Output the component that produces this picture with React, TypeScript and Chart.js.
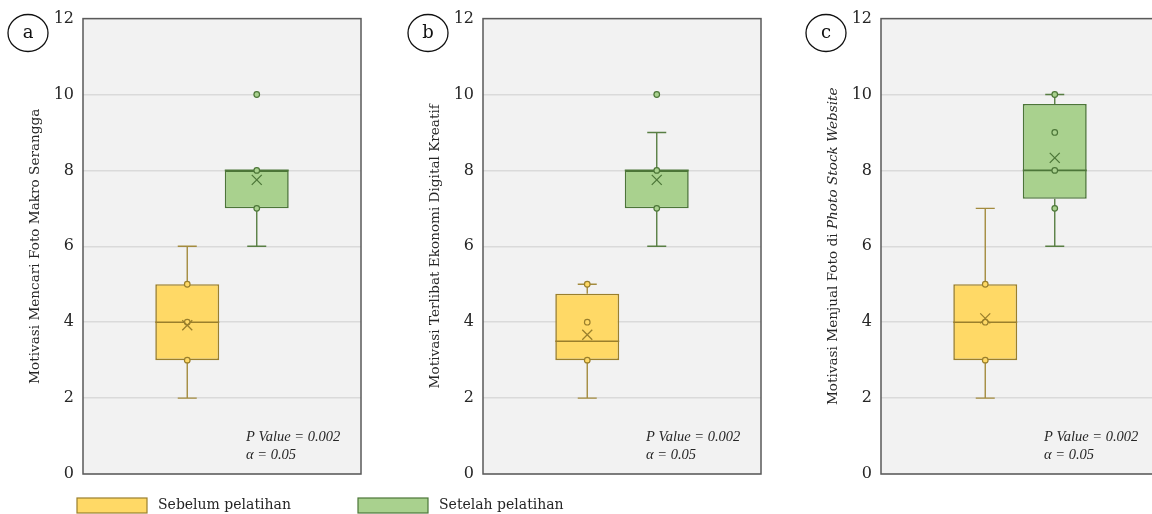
import React, { useEffect, useRef } from "react";
import { Chart, registerables } from "chart.js";
Chart.register(...registerables);

// ---------- DATA ----------
const PANEL_LETTERS = ["a", "b", "c"];
const Y_TITLE_PLAIN = [
  "Motivasi Mencari Foto Makro Serangga",
  "Motivasi Terlibat Ekonomi Digital Kreatif",
  "Motivasi Menjual Foto di ",
];
const Y_TITLE_ITALIC = ["", "", "Photo Stock Website"];
const SERIES_NAMES = ["Sebelum pelatihan", "Setelah pelatihan"];
const Y_MIN = 0;
const Y_MAX = 12;
const Y_STEP = 2;

// [lower whisker, Q1, median, Q3, upper whisker]
const SEBELUM_A = [2, 3, 4, 5, 6];
const SETELAH_A = [6, 7, 8, 8, 8];
const SEBELUM_B = [2, 3, 3.5, 4.75, 5];
const SETELAH_B = [6, 7, 8, 8, 9];
const SEBELUM_C = [2, 3, 4, 5, 7];
const SETELAH_C = [6, 7.25, 8, 9.75, 10];

const MEAN_SEBELUM = [3.92, 3.67, 4.1];
const MEAN_SETELAH = [7.75, 7.75, 8.33];

const POINTS_SEBELUM_A = [3, 4, 5];
const POINTS_SETELAH_A = [7, 8, 10];
const POINTS_SEBELUM_B = [3, 4, 5];
const POINTS_SETELAH_B = [7, 8, 10];
const POINTS_SEBELUM_C = [3, 4, 5];
const POINTS_SETELAH_C = [7, 8, 9, 10];

const P_VALUE_TEXT = "P Value = 0.002";
const ALPHA_TEXT = "α = 0.05";

const SEBELUM = [SEBELUM_A, SEBELUM_B, SEBELUM_C];
const SETELAH = [SETELAH_A, SETELAH_B, SETELAH_C];
const POINTS_SEBELUM = [POINTS_SEBELUM_A, POINTS_SEBELUM_B, POINTS_SEBELUM_C];
const POINTS_SETELAH = [POINTS_SETELAH_A, POINTS_SETELAH_B, POINTS_SETELAH_C];

// ---------- STYLE ----------
const FILL = ["#FFD966", "#A9D18E"];
const EDGE = ["#9A7F2C", "#4C7638"];
const WHISK = ["#A38B3E", "#587E43"];
const TEXT = "#262626";
const SERIF = "'DejaVu Serif', 'Liberation Serif', serif";
const SERIF2 = "'Liberation Serif', 'DejaVu Serif', serif";

const PANELS = [
  { left: 0, width: 600 },
  { left: 400, width: 372 },
  { left: 798, width: 372 },
];
const AXIS_W = 83;
const PLOT_W = 278;

function makeChart(canvas: HTMLCanvasElement, i: number) {
  const stats = [SEBELUM[i], SETELAH[i]];
  const means = [MEAN_SEBELUM[i], MEAN_SETELAH[i]];
  const pts = [POINTS_SEBELUM[i], POINTS_SETELAH[i]];
  const panel = PANELS[i];

  const plugin = {
    id: "boxExtras" + i,
    beforeDraw(chart: any) {
      const { ctx, chartArea: a } = chart;
      ctx.save();
      ctx.fillStyle = "#F2F2F2";
      ctx.fillRect(a.left, a.top, a.right - a.left, a.bottom - a.top);
      ctx.restore();
    },
    afterDatasetsDraw(chart: any) {
      const ctx = chart.ctx;
      const ys = chart.scales.y;
      const Y = (v: number) => ys.getPixelForValue(v);
      ctx.save();
      for (let d = 0; d < 2; d++) {
        const el = chart.getDatasetMeta(d).data[0];
        const x = el.x;
        const w = el.width;
        const [mn, q1, md, q3, mx] = stats[d];
        ctx.strokeStyle = WHISK[d];
        ctx.lineWidth = 1.4;
        const cap = 9.5;
        if (mx > q3) {
          ctx.beginPath();
          ctx.moveTo(x, Y(q3));
          ctx.lineTo(x, Y(mx));
          ctx.moveTo(x - cap, Y(mx));
          ctx.lineTo(x + cap, Y(mx));
          ctx.stroke();
        }
        if (mn < q1) {
          ctx.beginPath();
          ctx.moveTo(x, Y(q1));
          ctx.lineTo(x, Y(mn));
          ctx.moveTo(x - cap, Y(mn));
          ctx.lineTo(x + cap, Y(mn));
          ctx.stroke();
        }
        // median
        ctx.strokeStyle = EDGE[d];
        ctx.lineWidth = 1.6;
        ctx.beginPath();
        ctx.moveTo(x - w / 2, Y(md));
        ctx.lineTo(x + w / 2, Y(md));
        ctx.stroke();
        // inner points
        ctx.lineWidth = 1.2;
        for (const p of pts[d]) {
          ctx.beginPath();
          ctx.arc(x, Y(p), 2.8, 0, Math.PI * 2);
          ctx.fillStyle = FILL[d];
          ctx.fill();
          ctx.stroke();
        }
        // mean marker
        const my = Y(means[d]);
        const s = 5;
        ctx.lineWidth = 1.3;
        ctx.beginPath();
        ctx.moveTo(x - s, my - s);
        ctx.lineTo(x + s, my + s);
        ctx.moveTo(x + s, my - s);
        ctx.lineTo(x - s, my + s);
        ctx.stroke();
      }
      ctx.restore();
    },
    afterDraw(chart: any) {
      const { ctx, chartArea: a } = chart;
      ctx.save();
      // plot border
      ctx.strokeStyle = "#5A5A5A";
      ctx.lineWidth = 1.5;
      ctx.strokeRect(a.left, a.top, a.right - a.left, a.bottom - a.top);
      // p value annotation
      ctx.fillStyle = TEXT;
      ctx.font = `italic 14.5px ${SERIF2}`;
      ctx.textAlign = "left";
      ctx.textBaseline = "middle";
      ctx.fillText(P_VALUE_TEXT, a.left + 163, a.bottom - 37);
      ctx.fillText(ALPHA_TEXT, a.left + 163, a.bottom - 19);
      // panel letter in circle
      const cx = a.left - 55;
      const cy = 33;
      ctx.strokeStyle = "#111";
      ctx.lineWidth = 1.3;
      ctx.beginPath();
      ctx.ellipse(cx, cy, 20, 18.5, 0, 0, Math.PI * 2);
      ctx.stroke();
      ctx.font = `18px ${SERIF}`;
      ctx.textAlign = "center";
      ctx.fillStyle = "#111";
      ctx.fillText(PANEL_LETTERS[i], cx, cy);
      // mixed style axis title (panel c)
      if (Y_TITLE_ITALIC[i]) {
        const tx = 35;
        const ty = (a.top + a.bottom) / 2;
        const f1 = `13.6px ${SERIF}`;
        const f2 = `italic 13.6px ${SERIF}`;
        ctx.font = f1;
        const w1 = ctx.measureText(Y_TITLE_PLAIN[i]).width;
        ctx.font = f2;
        const w2 = ctx.measureText(Y_TITLE_ITALIC[i]).width;
        ctx.translate(tx, ty);
        ctx.rotate(-Math.PI / 2);
        ctx.fillStyle = TEXT;
        ctx.textAlign = "left";
        ctx.textBaseline = "middle";
        ctx.font = f1;
        ctx.fillText(Y_TITLE_PLAIN[i], -(w1 + w2) / 2, 0);
        ctx.font = f2;
        ctx.fillText(Y_TITLE_ITALIC[i], -(w1 + w2) / 2 + w1, 0);
        ctx.setTransform(1, 0, 0, 1, 0, 0);
      }
      // legend (drawn once, under panel a)
      if (i === 0) {
        const items = chart.data.datasets;
        const xs = [77, 358];
        ctx.font = `14px ${SERIF}`;
        ctx.textAlign = "left";
        ctx.textBaseline = "middle";
        items.forEach((ds: any, k: number) => {
          ctx.fillStyle = ds.backgroundColor;
          ctx.fillRect(xs[k], 498, 70, 15);
          ctx.strokeStyle = ds.borderColor;
          ctx.lineWidth = 1.2;
          ctx.strokeRect(xs[k], 498, 70, 15);
          ctx.fillStyle = TEXT;
          ctx.fillText(ds.label, xs[k] + 81, 505);
        });
      }
      ctx.restore();
    },
  };

  return new Chart(canvas, {
    type: "bar",
    data: {
      labels: [""],
      datasets: [0, 1].map((d) => ({
        label: SERIES_NAMES[d],
        data: [[stats[d][1], stats[d][3]]],
        backgroundColor: FILL[d],
        borderColor: EDGE[d],
        borderWidth: 1.6,
        borderSkipped: false,
        categoryPercentage: 0.5,
        barPercentage: 0.92,
      })),
    },
    options: {
      responsive: false,
      maintainAspectRatio: false,
      animation: false,
      layout: {
        padding: { left: 0, top: 18, bottom: 40, right: panel.width - AXIS_W - PLOT_W },
      },
      plugins: { legend: { display: false }, tooltip: { enabled: false } },
      scales: {
        x: { display: false },
        y: {
          min: Y_MIN,
          max: Y_MAX,
          afterFit: (scale: any) => {
            scale.width = AXIS_W;
          },
          ticks: {
            stepSize: Y_STEP,
            padding: 9,
            color: TEXT,
            font: { family: SERIF, size: 16 },
          },
          grid: { color: "#DADADA", lineWidth: 1.5, drawTicks: false },
          border: { display: false },
          title: {
            display: !Y_TITLE_ITALIC[i],
            text: Y_TITLE_PLAIN[i],
            color: TEXT,
            font: { family: SERIF, size: 13.6 },
            padding: { top: 27, bottom: 0 },
          },
        },
      },
    },
    plugins: [plugin],
  } as any);
}

function Panel({ i }: { i: number }) {
  const ref = useRef<HTMLCanvasElement | null>(null);
  useEffect(() => {
    if (!ref.current) return;
    const c = makeChart(ref.current, i);
    return () => c.destroy();
  }, [i]);
  const p = PANELS[i];
  return (
    <canvas
      ref={ref}
      width={p.width}
      height={514}
      style={{ position: "absolute", left: p.left, top: 0, width: p.width, height: 514 }}
    />
  );
}

export default function App() {
  return (
    <div
      style={{
        position: "absolute",
        left: 0,
        top: 0,
        width: 1152,
        height: 514,
        overflow: "hidden",
        background: "#ffffff",
      }}
    >
      <Panel i={0} />
      <Panel i={1} />
      <Panel i={2} />
    </div>
  );
}
